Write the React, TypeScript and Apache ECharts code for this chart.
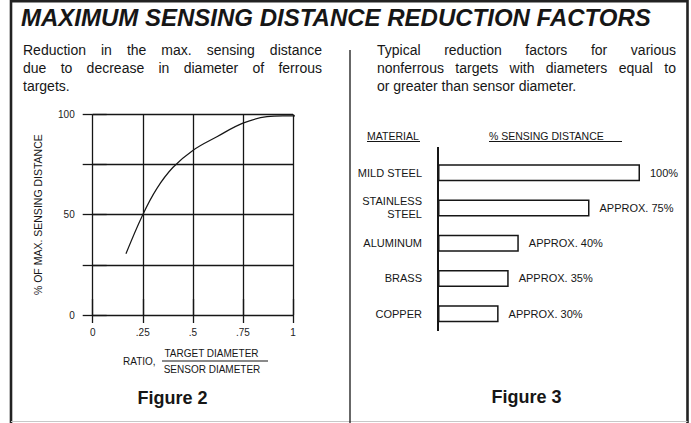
import React, { useEffect, useRef } from 'react';
import * as echarts from 'echarts';

const FONT = '"Liberation Sans", Arial, Helvetica, sans-serif';
const INK = '#161616';

const titleText = 'MAXIMUM SENSING DISTANCE REDUCTION FACTORS';
const leftDesc = [
  'Reduction in the max. sensing distance',
  'due to decrease in diameter of ferrous',
  'targets.',
];
const rightDesc = [
  'Typical reduction factors for various',
  'nonferrous targets with diameters equal to',
  'or greater than sensor diameter.',
];

// Figure 2: ratio (target / sensor diameter) vs % of max sensing distance
const ratioX = [0.166, 0.25, 0.32, 0.4, 0.5, 0.62, 0.75, 0.87, 0.95, 1.03];
const pctY = [30.5, 50, 63, 73.5, 82, 88.8, 95.6, 98.8, 99.2, 99.2];
const xTickLabels = ['0', '.25', '.5', '.75', '1'];
const yTickLabels = ['0', '', '50', '', '100'];
const yAxisName = '% OF MAX. SENSING DISTANCE';
const ratioLabel = 'RATIO,';
const ratioNum = 'TARGET DIAMETER';
const ratioDen = 'SENSOR DIAMETER';
const fig2Label = 'Figure 2';

// Figure 3: materials
const materials = ['MILD STEEL', 'STAINLESS\nSTEEL', 'ALUMINUM', 'BRASS', 'COPPER'];
const sensingPct = [100, 75, 40, 35, 30];
const barLabels = ['100%', 'APPROX. 75%', 'APPROX. 40%', 'APPROX. 35%', 'APPROX. 30%'];
const headMaterial = 'MATERIAL';
const headSensing = '% SENSING DISTANCE';
const fig3Label = 'Figure 3';

function textEl(text: string, x: number, y: number, size: number, extra: any = {}) {
  return {
    type: 'text',
    x,
    y,
    silent: true,
    style: {
      text,
      fontSize: size,
      fontFamily: FONT,
      fill: INK,
      align: 'left',
      verticalAlign: 'middle',
      ...extra,
    },
  };
}

function paragraph(lines: string[], x0: number, x1: number, y0: number, lh: number, size: number) {
  const cv = document.createElement('canvas');
  const ctx = cv.getContext('2d') as CanvasRenderingContext2D;
  ctx.font = `${size}px ${FONT}`;
  const els: any[] = [];
  lines.forEach((line, li) => {
    const y = y0 + li * lh;
    const words = line.split(' ');
    const last = li === lines.length - 1;
    if (last || words.length < 2) {
      els.push(textEl(line, x0, y, size));
      return;
    }
    const widths = words.map((w) => ctx.measureText(w).width);
    const total = widths.reduce((a, b) => a + b, 0);
    const gap = (x1 - x0 - total) / (words.length - 1);
    let x = x0;
    words.forEach((w, i) => {
      els.push(textEl(w, x, y, size));
      x += widths[i] + gap;
    });
  });
  return els;
}

function lineEl(x1: number, y1: number, x2: number, y2: number, w: number, color = INK) {
  return {
    type: 'line',
    silent: true,
    shape: { x1, y1, x2, y2 },
    style: { stroke: color, lineWidth: w },
  };
}

export default function App() {
  const ref = useRef<HTMLDivElement>(null);

  useEffect(() => {
    if (!ref.current) return;
    const chart = echarts.init(ref.current, undefined, { renderer: 'svg' });
    const gridLine = { color: INK, width: 1.3 };

    const graphic: any[] = [
      // frame
      {
        type: 'polyline',
        silent: true,
        shape: { points: [[11, 423], [11, 1.2], [687.5, 1.2], [687.5, 423]] },
        style: { stroke: '#222', lineWidth: 2.6, fill: 'none' },
      },
      lineEl(11, 421.5, 687.5, 421.5, 1, '#c8c8c8'),
      // divider
      lineEl(350, 50, 350, 423, 1.3),
      // title
      textEl(titleText, 21, 17.5, 24, { fontWeight: 'bold', fontStyle: 'italic' }),
      ...paragraph(leftDesc, 23, 322, 50, 18, 14),
      ...paragraph(rightDesc, 377, 676, 50, 18, 14),
      // figure 2 x axis name (fraction)
      textEl(ratioLabel, 123, 361, 10),
      textEl(ratioNum, 211.5, 353, 10, { align: 'center' }),
      lineEl(162, 361, 268, 361, 1.1),
      textEl(ratioDen, 212, 369.5, 10, { align: 'center' }),
      textEl(fig2Label, 172.5, 398, 18, { fontWeight: 'bold', align: 'center' }),
      // figure 3 headers
      textEl(headMaterial, 367, 136, 10.5),
      lineEl(367, 141.5, 420, 141.5, 1),
      textEl(headSensing, 489, 136, 10.5),
      lineEl(489, 141.5, 622, 141.5, 1),
      // figure 3 vertical axis
      lineEl(438, 147, 438, 331, 2),
      textEl(fig3Label, 526.5, 397, 18, { fontWeight: 'bold', align: 'center' }),
    ];

    chart.setOption({
      animation: false,
      backgroundColor: '#fff',
      textStyle: { fontFamily: FONT, color: INK },
      grid: [
        { left: 92.7, top: 114.3, width: 200.3, height: 200.7 },
        { left: 438, top: 155, width: 202, height: 176.4 },
      ],
      xAxis: [
        {
          type: 'value',
          gridIndex: 0,
          min: 0,
          max: 1,
          interval: 0.25,
          axisLine: { show: false },
          axisTick: { show: true, length: 8, lineStyle: gridLine },
          axisLabel: {
            fontSize: 10,
            margin: 12,
            color: '#222',
            formatter: (v: number) => xTickLabels[Math.round(v / 0.25)] ?? '',
          },
          splitLine: { show: true, lineStyle: gridLine },
        },
        {
          type: 'value',
          gridIndex: 0,
          position: 'top',
          min: 0,
          max: 1,
          interval: 0.25,
          axisLine: { show: false },
          axisTick: { show: true, length: 16, lineStyle: gridLine },
          axisLabel: { show: false },
          splitLine: { show: false },
        },
        {
          type: 'value',
          gridIndex: 1,
          min: 0,
          max: 100,
          show: false,
        },
      ],
      yAxis: [
        {
          type: 'value',
          gridIndex: 0,
          min: 0,
          max: 100,
          interval: 25,
          axisLine: { show: false },
          axisTick: { show: true, length: 10, lineStyle: gridLine },
          axisLabel: {
            fontSize: 10,
            margin: 18,
            color: '#222',
            formatter: (v: number) => yTickLabels[Math.round(v / 25)] ?? '',
          },
          splitLine: { show: true, lineStyle: gridLine },
          name: yAxisName,
          nameLocation: 'middle',
          nameGap: 49,
          nameTextStyle: { fontSize: 10.5, color: INK },
        },
        {
          type: 'value',
          gridIndex: 0,
          position: 'right',
          min: 0,
          max: 100,
          interval: 25,
          axisLine: { show: false },
          axisTick: { show: true, length: 14, lineStyle: gridLine },
          axisLabel: { show: false },
          splitLine: { show: false },
        },
        {
          type: 'category',
          gridIndex: 1,
          data: materials,
          inverse: true,
          axisLine: { show: false },
          axisTick: { show: false },
          axisLabel: {
            fontSize: 11,
            margin: 16,
            color: INK,
            lineHeight: 13,
            align: 'right',
          },
        },
      ],
      series: [
        {
          type: 'line',
          xAxisIndex: 0,
          yAxisIndex: 0,
          data: ratioX.map((x, i) => [x, pctY[i]]),
          smooth: 0.4,
          showSymbol: false,
          clip: false,
          lineStyle: { color: INK, width: 1.2 },
        },
        {
          type: 'bar',
          xAxisIndex: 2,
          yAxisIndex: 2,
          data: sensingPct,
          barWidth: 17,
          itemStyle: { color: '#fff', borderColor: INK, borderWidth: 1.5 },
          label: {
            show: true,
            position: 'right',
            distance: 10,
            fontSize: 11,
            color: INK,
            formatter: (p: any) => barLabels[p.dataIndex],
          },
        },
      ],
      graphic,
    });

    return () => chart.dispose();
  }, []);

  return (
    <div
      ref={ref}
      style={{ position: 'fixed', left: 0, top: 0, width: 691, height: 423, background: '#fff' }}
    />
  );
}
